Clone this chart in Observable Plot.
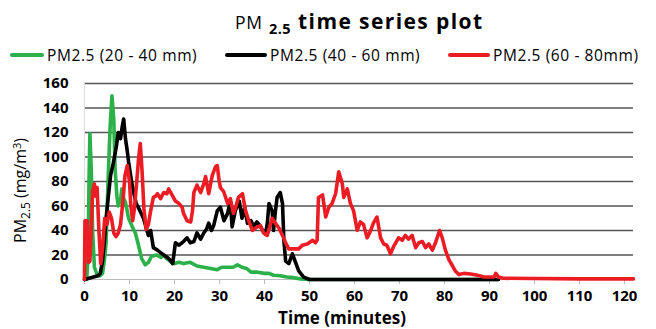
<!DOCTYPE html>
<html>
<head>
<meta charset="utf-8">
<script src="https://cdn.jsdelivr.net/npm/d3@7"></script>
<script src="https://cdn.jsdelivr.net/npm/@observablehq/plot@0.6"></script>
<style>
  html, body { margin: 0; padding: 0; background: #fff; }
  #wrap { position: relative; width: 656px; height: 329px; font-family: "Open Sans", sans-serif; color: #000; overflow: hidden; }
  #title { position: absolute; left: 0; top: 7px; width: 656px; height: 30px; }
  #title .t { position: absolute; left: 235px; top: 0; white-space: nowrap; }
  #title .pm { font-size: 17.5px; font-weight: normal; letter-spacing: 0.8px; }
  #title .sub { font-size: 14.5px; font-weight: bold; position: relative; top: 5px; margin-left: 6px; letter-spacing: 0.5px; }
  #title .main { font-size: 21px; font-weight: bold; margin-left: 7px; letter-spacing: 1.4px; }
  .leg { position: absolute; top: 45px; height: 20px; display: flex; align-items: center; white-space: nowrap; font-size: 15.5px; letter-spacing: 0.6px; }
  .leg .sw { display: inline-block; height: 4px; border-radius: 2px; margin-right: 3px; }
  #chart { position: absolute; left: 0; top: 70px; }
</style>
</head>
<body>
<div id="wrap">
  <div id="title"><div class="t"><span class="pm">PM</span><span class="sub">2.5</span><span class="main">time series plot</span></div></div>
  <div id="legend"></div>
  <div id="chart"></div>
</div>
<script>
// ---- data (time in minutes, PM2.5 in mg/m3) ----
const seriesNames = ["PM2.5 (20 - 40 mm)", "PM2.5 (40 - 60 mm)", "PM2.5 (60 - 80mm)"];
const seriesColors = ["#2bb04a", "#000000", "#ec1c24"];
const xTicks = [0, 10, 20, 30, 40, 50, 60, 70, 80, 90, 100, 110, 120];
const yTicks = [0, 20, 40, 60, 80, 100, 120, 140, 160];

const green = [
  [0,0],[0.5,0],[0.8,20],[1.0,80],[1.2,119],[1.5,90],[1.8,40],[2.2,10],[2.8,4],[3.4,3],[4.0,5],
  [4.4,15],[4.8,30],[5.2,77],[5.7,125],[6.1,150],[6.5,131],[6.8,90],[7.2,68],[7.5,60],[8.0,65],
  [8.3,74],[8.7,66],[9.1,63],[9.8,50],[10.5,44],[11.3,38],[12.0,28],[12.7,17],[13.5,12],[14.2,14],
  [14.9,19],[16.0,20],[17.0,18],[17.6,20],[18.3,17],[19.0,15],[20.0,13],[21.0,14],[22.0,13],
  [23.5,14],[25.0,11],[26.5,10],[28.0,9],[29.5,8],[30.5,10],[31.8,10],[33.0,10],[34.0,12],
  [35.0,10],[36.0,9],[37.0,6],[38.5,6],[40.0,5],[41.0,5],[42.0,3.5],[43.5,3],[45.0,2],[46.5,1.5],
  [48.0,0.5],[50.0,0],[92.0,0]
];
const black = [
  [0,0],[1,1],[2,2],[3,3],[3.5,5],[4.0,15],[4.4,30],[4.8,50],[5.3,68],[5.8,85],[6.4,95],[7.1,109],
  [7.5,120],[8.0,115],[8.4,125],[8.7,131],[9.1,115],[9.5,105],[9.8,96],[10.5,79],[11.0,70],[11.5,62],
  [12.2,57],[13.1,50],[14.2,36],[14.7,40],[15.3,26],[16.2,24],[16.9,22],[17.6,20],[18.4,18],[19.0,16],
  [19.6,13],[20.2,30],[21.0,28],[22.0,31],[22.8,34],[23.5,30],[24.3,31],[25.0,38],[25.8,33],[26.5,38],
  [27.1,41],[27.6,46],[28.2,40],[28.7,44],[29.5,56],[30.2,59],[31.0,48],[31.8,54],[32.4,64],[32.8,43],
  [33.5,56],[34.4,64],[35.0,50],[35.6,59],[36.2,46],[37.0,48],[37.6,43],[38.3,47],[39.0,44],[39.6,40],
  [40.2,37],[40.6,45],[41.0,62],[41.7,56],[42.0,40],[42.4,55],[42.8,67],[43.5,71],[44.0,62],[44.3,32],
  [44.7,15],[45.4,13],[46.2,21],[47.0,13],[47.6,7],[48.7,2],[50.0,0],[92.0,0]
];
const red = [
  [0,0],[0.1,48],[0.6,48],[0.9,14],[1.2,15],[1.5,40],[1.8,72],[2.2,78],[2.5,68],[2.8,75],[3.2,40],
  [3.6,13],[4.0,25],[4.5,50],[5.0,45],[5.5,55],[6.0,50],[6.5,38],[7.0,35],[7.5,38],[8.0,45],[8.5,62],
  [9.0,85],[9.5,93],[10.0,80],[10.3,60],[10.7,48],[11.1,58],[11.5,75],[12.0,98],[12.4,111],[12.8,88],
  [13.2,58],[13.7,41],[14.2,45],[14.7,56],[15.3,67],[15.8,68],[16.2,70],[16.9,66],[17.6,71],[18.3,70],
  [18.7,74],[19.6,68],[20.2,64],[21.0,62],[21.7,59],[22.0,54],[22.8,48],[23.6,47],[24.0,56],[24.3,71],
  [25.0,77],[25.8,71],[26.5,78],[26.9,84],[27.6,70],[28.4,85],[29.1,92],[29.5,93],[29.9,81],[30.2,75],
  [30.9,72],[31.8,62],[32.4,66],[33.1,54],[33.6,59],[34.2,67],[35.1,70],[35.8,56],[36.5,48],[37.3,40],
  [38.4,43],[39.1,44],[39.8,38],[40.6,36],[41.7,50],[42.4,46],[43.2,42],[44.0,36],[44.7,30],[45.4,25],
  [46.5,25],[47.6,25],[48.4,28],[49.5,29],[50.7,32],[51.3,30],[51.7,32],[52.0,67],[52.9,69],[53.6,51],
  [54.3,59],[55.0,62],[55.8,70],[56.5,88],[57.3,78],[57.6,67],[58.4,74],[59.1,62],[59.8,56],[60.6,40],
  [61.3,47],[62.0,45],[62.8,34],[63.6,40],[64.2,46],[65.0,51],[65.8,34],[66.5,29],[67.2,28],[68.0,21],
  [68.7,27],[69.8,34],[70.6,32],[71.3,36],[72.0,33],[72.8,36],[73.6,26],[74.3,30],[75.1,31],[75.8,26],
  [76.5,29],[77.3,24],[78.0,30],[78.9,40],[79.5,34],[80.2,24],[81.0,16],[81.8,11],[82.4,7],[83.2,4],
  [84.3,5],[85.8,4.5],[87.3,3.5],[88.8,2],[90.0,2],[91.0,2],[91.4,5],[92.0,2],[93.0,1],[100.0,0.8],
  [110.0,0.5],[122.0,0.5]
];

// ---- legend ----
const legendPos = [[10, 34], [225, 42], [448, 42]];
const legend = document.getElementById("legend");
seriesNames.forEach((name, i) => {
  const d = document.createElement("div");
  d.className = "leg";
  d.style.left = legendPos[i][0] + "px";
  d.innerHTML = `<span class="sw" style="width:${legendPos[i][1]}px;background:${seriesColors[i]}"></span><span>${name}</span>`;
  legend.appendChild(d);
});

// ---- chart ----
const toRows = arr => arr.map(([t, v]) => ({t, v}));
const font = "'Open Sans', sans-serif";

const chart = Plot.plot({
  width: 656,
  height: 259,
  marginTop: 13,
  marginBottom: 50,
  marginLeft: 84,
  marginRight: 23,
  style: {fontFamily: font, fontSize: "15px", fontWeight: "bold", color: "#000", background: "#fff", overflow: "visible"},
  x: {domain: [0, 122]},
  y: {domain: [0, 160]},
  marks: [
    Plot.ruleY(yTicks.filter(d => d > 0), {y: d => d, stroke: "#555", strokeWidth: 1.7}),
    Plot.ruleY([0], {stroke: "#bbb", strokeWidth: 1}),
    Plot.ruleX([0], {stroke: "#ddd", strokeWidth: 1}),
    Plot.axisX({ticks: xTicks, tickSize: 5, tickPadding: 6, stroke: "#bbb", label: null, fontSize: 15, fontWeight: "bold"}),
    Plot.axisY({ticks: yTicks, tickSize: 0, tickPadding: 16, label: null, fontSize: 15, fontWeight: "bold"}),
    Plot.text(["Time (minutes)"], {frameAnchor: "bottom", dx: -17, dy: 44, fontSize: 17, fontWeight: "bold"}),
    Plot.text(["PM2.5 (mg/m3)"], {frameAnchor: "left", textAnchor: "middle", rotate: -90, dx: -64, dy: 9, fontSize: 16, fontWeight: "normal"}),
    Plot.line(toRows(green), {x: "t", y: "v", stroke: seriesColors[0], strokeWidth: 3.6}),
    Plot.line(toRows(black), {x: "t", y: "v", stroke: seriesColors[1], strokeWidth: 3.6}),
    Plot.line(toRows(red), {x: "t", y: "v", stroke: seriesColors[2], strokeWidth: 3.6})
  ]
});
document.getElementById("chart").appendChild(chart);

// sub/superscripts in the y label
d3.select(chart).selectAll("text").filter(function() { return this.textContent === "PM2.5 (mg/m3)"; })
  .each(function() {
    const t = d3.select(this);
    t.text(null);
    t.append("tspan").text("PM");
    t.append("tspan").attr("dy", 4).attr("font-size", 12).text("2.5");
    t.append("tspan").attr("dy", -4).text(" (mg/m");
    t.append("tspan").attr("dy", -5).attr("font-size", 11).text("3");
    t.append("tspan").attr("dy", 5).text(")");
  });
</script>
</body>
</html>
